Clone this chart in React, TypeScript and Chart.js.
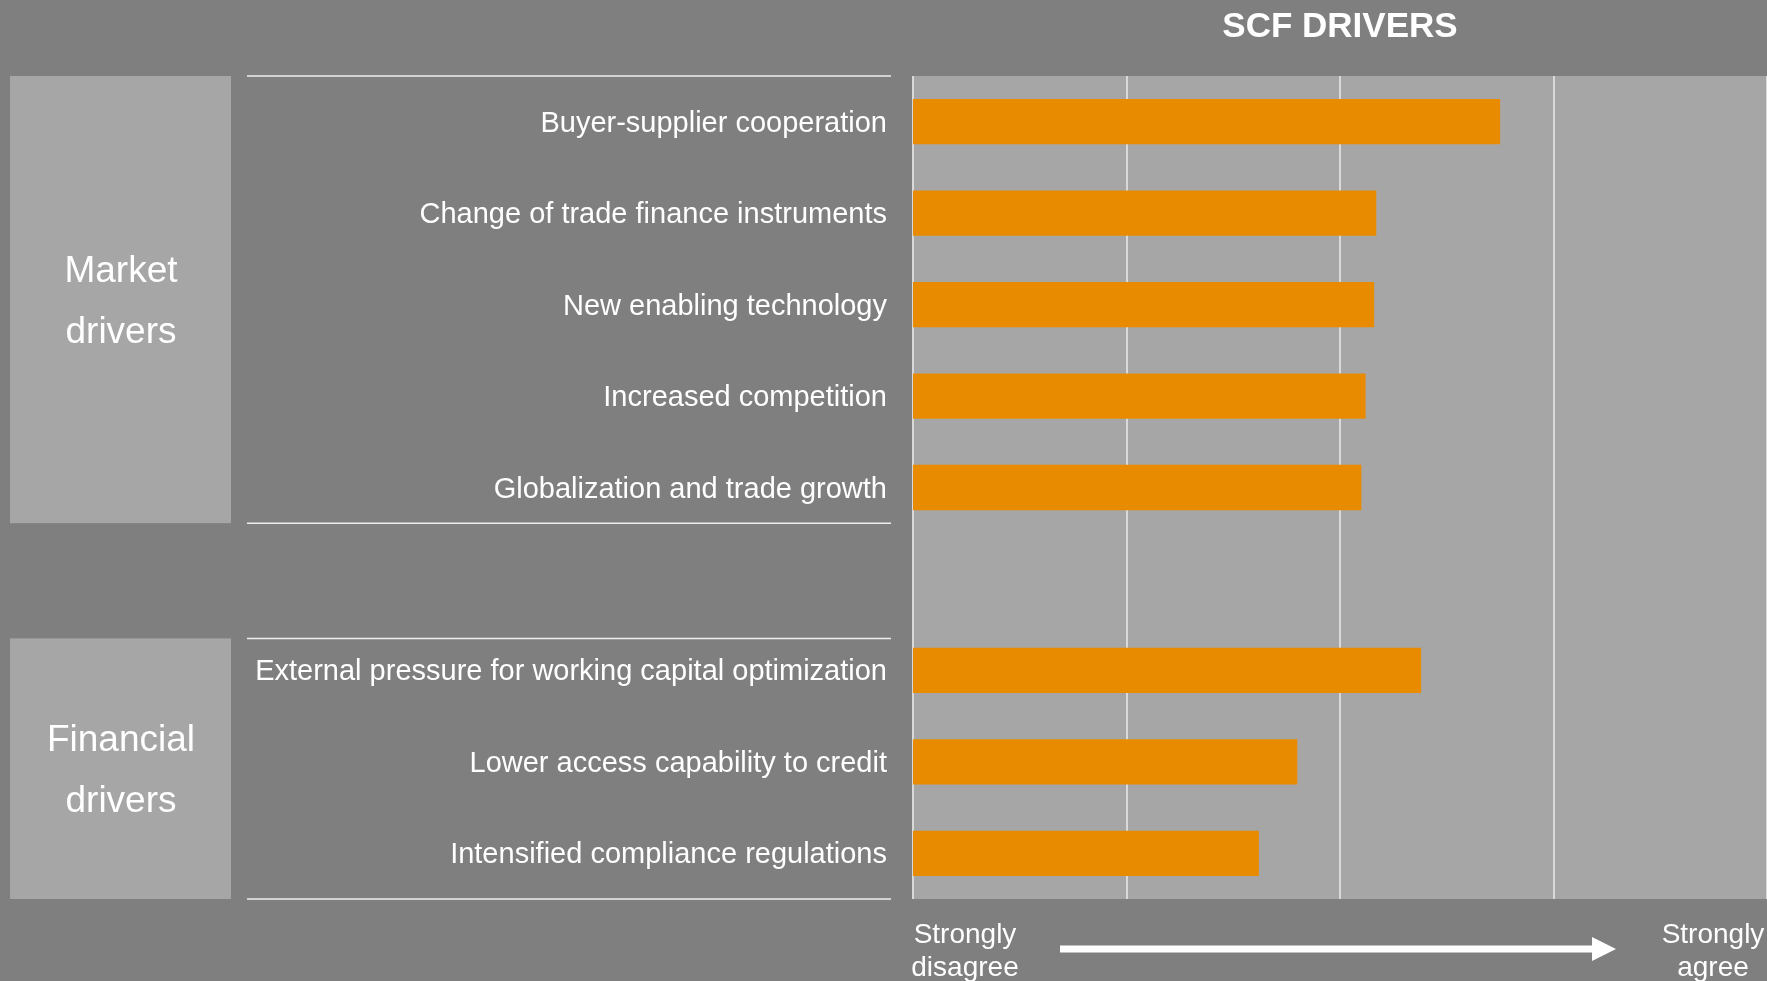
import React, { useEffect, useRef } from "react";
import { Chart, registerables } from "chart.js";

Chart.register(...registerables);

// ---- data ----
const categories: string[] = [
  "Buyer-supplier cooperation",
  "Change of trade finance instruments",
  "New enabling technology",
  "Increased competition",
  "Globalization and trade growth",
  "",
  "External pressure for working capital optimization",
  "Lower access capability to credit",
  "Intensified compliance regulations",
];
const scores: (number | null)[] = [3.75, 3.17, 3.16, 3.12, 3.1, null, 3.38, 2.8, 2.62];
const scaleMin = 1;
const scaleMax = 5;
const chartTitle = "SCF DRIVERS";
const groupLabels: string[][] = [
  ["Market", "drivers"],
  ["Financial", "drivers"],
];
const groupSpans: [number, number][] = [
  [-0.5, 4.39],
  [5.65, 8.5],
];
const lowLabel = ["Strongly", "disagree"];
const highLabel = ["Strongly", "agree"];

const FONT = "'Liberation Sans', Arial, sans-serif";
const BG = "#7f7f7f";
const PLOT_BG = "#a6a6a6";
const BAR = "#e98b00";

const decorPlugin = {
  id: "decor",
  beforeDraw(chart: any) {
    const { ctx, chartArea, width, height } = chart;
    ctx.save();
    ctx.fillStyle = BG;
    ctx.fillRect(0, 0, width, height);
    ctx.fillStyle = PLOT_BG;
    ctx.fillRect(chartArea.left, chartArea.top, chartArea.right - chartArea.left, chartArea.bottom - chartArea.top);
    ctx.restore();
  },
  afterDraw(chart: any) {
    const { ctx, chartArea } = chart;
    const y = chart.scales.y;
    ctx.save();
    // title
    ctx.fillStyle = "#ffffff";
    ctx.font = `bold 35px ${FONT}`;
    ctx.textAlign = "center";
    ctx.textBaseline = "middle";
    ctx.fillText(chartTitle, (chartArea.left + chartArea.right) / 2, 27);

    // group boxes and separator lines
    groupSpans.forEach((span, i) => {
      const top = y.getPixelForValue(span[0]);
      const bottom = y.getPixelForValue(span[1]);
      ctx.fillStyle = PLOT_BG;
      ctx.fillRect(10, top, 221, bottom - top);
      ctx.strokeStyle = "#eeeeee";
      ctx.lineWidth = 1.5;
      ctx.beginPath();
      ctx.moveTo(247, top);
      ctx.lineTo(chartArea.left - 22, top);
      ctx.moveTo(247, bottom);
      ctx.lineTo(chartArea.left - 22, bottom);
      ctx.stroke();
      ctx.fillStyle = "#ffffff";
      ctx.font = `37px ${FONT}`;
      ctx.textAlign = "center";
      ctx.textBaseline = "middle";
      const cy = (top + bottom) / 2 + 3;
      const lines = groupLabels[i];
      const lh = 61;
      lines.forEach((t, k) => {
        ctx.fillText(t, 121, cy + (k - (lines.length - 1) / 2) * lh);
      });
    });

    // bottom scale annotation
    const x = chart.scales.x;
    ctx.fillStyle = "#ffffff";
    ctx.font = `28px ${FONT}`;
    ctx.textAlign = "center";
    ctx.textBaseline = "middle";
    const lowX = x.getPixelForValue(scaleMin) + 52;
    const highX = x.getPixelForValue(scaleMax) - 54;
    lowLabel.forEach((t, k) => ctx.fillText(t, lowX, 935 + k * 33));
    highLabel.forEach((t, k) => ctx.fillText(t, highX, 935 + k * 33));

    // arrow
    const ay = 949;
    const ax0 = 1060;
    const ax1 = 1616;
    ctx.fillStyle = "#ffffff";
    ctx.fillRect(ax0, ay - 3.5, ax1 - ax0 - 22, 7);
    ctx.beginPath();
    ctx.moveTo(ax1 - 24, ay - 12);
    ctx.lineTo(ax1, ay);
    ctx.lineTo(ax1 - 24, ay + 12);
    ctx.closePath();
    ctx.fill();
    ctx.restore();
  },
};

export default function App() {
  const ref = useRef<HTMLCanvasElement | null>(null);

  useEffect(() => {
    document.body.style.margin = "0";
    document.body.style.background = BG;
    if (!ref.current) return;
    const chart = new Chart(ref.current, {
      type: "bar",
      data: {
        labels: categories,
        datasets: [
          {
            data: scores as any,
            backgroundColor: BAR,
            borderWidth: 0,
            barPercentage: 0.495,
            categoryPercentage: 1,
          },
        ],
      },
      options: {
        indexAxis: "y",
        animation: false,
        responsive: false,
        devicePixelRatio: 1,
        layout: { padding: { top: 76, bottom: 82, left: 0, right: 0 } },
        plugins: {
          legend: { display: false },
          tooltip: { enabled: false },
          title: { display: false },
        },
        scales: {
          x: {
            min: scaleMin,
            max: scaleMax,
            ticks: { display: false, stepSize: 1 },
            grid: { color: "#d9d9d9", lineWidth: 2, drawTicks: false },
            border: { display: false },
            afterFit: (s: any) => {
              s.height = 0;
            },
          },
          y: {
            grid: { display: false, drawTicks: false },
            border: { display: false },
            ticks: {
              color: "#ffffff",
              font: { family: FONT, size: 29 },
              padding: 26,
              labelOffset: 2,
              autoSkip: false,
            },
            afterFit: (s: any) => {
              s.width = 913;
            },
          },
        },
      },
      plugins: [decorPlugin],
    });
    return () => chart.destroy();
  }, []);

  return (
    <div style={{ width: 1767, height: 981, background: BG, overflow: "hidden" }}>
      <canvas ref={ref} width={1767} height={981} style={{ display: "block" }} />
    </div>
  );
}
